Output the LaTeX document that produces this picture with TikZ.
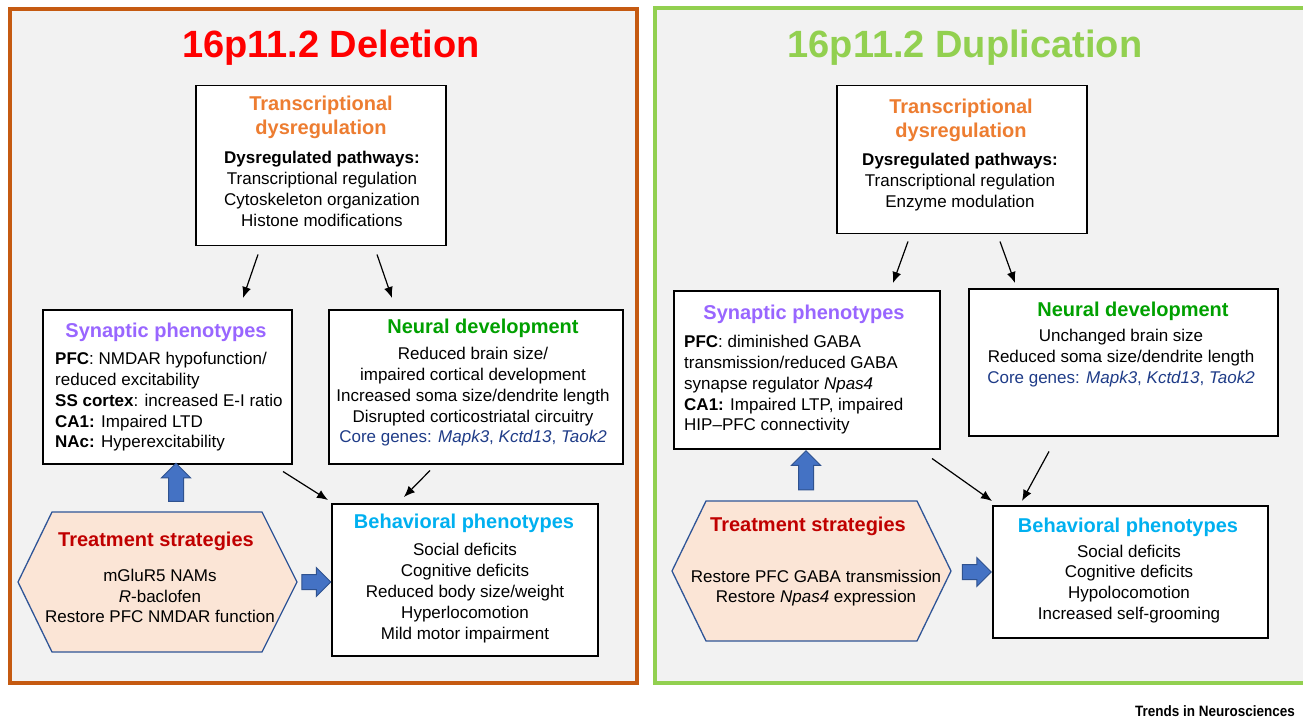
\documentclass[tikz,border=0pt]{standalone}
\usepackage{fontspec}
\setmainfont{Liberation Sans}
\usetikzlibrary{arrows.meta,shapes.arrows,calc}
\definecolor{panelgray}{HTML}{F2F2F2}
\definecolor{delred}{HTML}{FF0000}
\definecolor{dupgreen}{HTML}{92D050}
\definecolor{delframe}{HTML}{C55A11}
\definecolor{transorange}{HTML}{ED7D31}
\definecolor{synpurple}{HTML}{9966FF}
\definecolor{neugreen}{HTML}{00A000}
\definecolor{behcyan}{HTML}{00B0F0}
\definecolor{treatred}{HTML}{C00000}
\definecolor{genenavy}{HTML}{1F3C88}
\definecolor{arrowblue}{HTML}{4472C4}
\definecolor{arrowedge}{HTML}{2F528F}
\definecolor{hexfill}{HTML}{FBE5D6}
\definecolor{hexedge}{HTML}{2F5597}
\begin{document}
\begin{tikzpicture}[x=1pt,y=-1pt,
  every node/.style={inner sep=0pt},
  panel/.style={line width=3.5pt, fill=panelgray},
  box/.style={draw=black, line width=1.5pt, fill=white, anchor=north west},
  head/.style={font=\bfseries\fontsize{20}{24}\selectfont, align=center},
  body/.style={font=\fontsize{17}{20.8}\selectfont, align=center},
  bigtitle/.style={font=\bfseries\fontsize{38}{44}\selectfont},
  link/.style={-{Latex[length=11pt,width=9pt]}, line width=1.2pt},
  blockarrow/.style={single arrow, draw=arrowedge, fill=arrowblue, line width=1pt,
    inner sep=7pt, single arrow head extend=7pt, minimum height=#1},
  hexagon/.style={draw=hexedge, fill=hexfill, line width=1.3pt}]
\useasboundingbox (0,0) rectangle (1303,719);
\fill[white] (0,0) rectangle (1303,719);
\draw[panel, draw=delframe] (10,9) rectangle (637,683);
\draw[panel, draw=dupgreen] (655,8) rectangle (1340,683);
\node[bigtitle, text=delred] (delTitle) at (331,48) {16p11.2 Deletion};
\node[bigtitle, text=dupgreen] (dupTitle) at (965,48) {16p11.2 Duplication};
% deletion
\node[box, minimum width=250pt, minimum height=160pt] (trL) at (195,85) {};
\node[head, text=transorange] (trLhead) at (321,117) {Transcriptional\\dysregulation};
\node[body] (trLbody) at (322,189) {\textbf{Dysregulated pathways:}\\Transcriptional regulation\\Cytoskeleton organization\\Histone modifications};
\node[box, minimum width=249pt, minimum height=154pt] (synL) at (42,309) {};
\node[head, text=synpurple] (synLhead) at (166,332) {Synaptic phenotypes};
\node[body, align=left, anchor=west] (synLbody) at (55,402) {\textbf{PFC}: NMDAR hypofunction/\\reduced excitability\\\textbf{SS cortex}: increased E-I ratio\\\textbf{CA1:} Impaired LTD\\\textbf{NAc:} Hyperexcitability};
\node[box, minimum width=294pt, minimum height=154pt] (neuL) at (328,309) {};
\node[head, text=neugreen] (neuLhead) at (483,328) {Neural development};
\node[body] (neuLbody) at (473,397) {Reduced brain size/\\impaired cortical development\\Increased soma size/dendrite length\\Disrupted corticostriatal circuitry\\\textcolor{genenavy}{Core genes: \textit{Mapk3}, \textit{Kctd13}, \textit{Taok2}}};
\draw[hexagon] (18,582) -- (52,512) -- (262,512) -- (297,582) -- (262,652) -- (52,652) -- cycle;
\node[head, text=treatred] (trtLhead) at (156,541) {Treatment strategies};
\node[body] (trtLbody) at (160,596) {mGluR5 NAMs\\\textit{R}-baclofen\\Restore PFC NMDAR function};
\node[box, minimum width=266pt, minimum height=152pt] (behL) at (331,503) {};
\node[head, text=behcyan] (behLhead) at (464,523) {Behavioral phenotypes};
\node[body] (behLbody) at (465,593) {Social deficits\\Cognitive deficits\\Reduced body size/weight\\Hyperlocomotion\\Mild motor impairment};
\node[blockarrow=38pt, rotate=90] (upL) at (176,486) {};
\node[blockarrow=29pt] (rtL) at (312.5,582) {};
\draw[link] ($(trL.south west)+(63,8)$) -- ($(synL.north west)+(201,-11)$);
\draw[link] ($(trL.south west)+(182,8)$) -- ($(neuL.north west)+(64,-11)$);
\draw[link] ($(synL.south west)+(241,7)$) -- ($(behL.north west)+(-3,-3)$);
\draw[link] ($(neuL.south west)+(102,6)$) -- ($(behL.north west)+(73,-6)$);
% duplication
\node[box, minimum width=250pt, minimum height=148pt] (trR) at (836,85) {};
\node[head, text=transorange] (trRhead) at (961,120) {Transcriptional\\dysregulation};
\node[body] (trRbody) at (960,182) {\textbf{Dysregulated pathways:}\\Transcriptional regulation\\Enzyme modulation};
\node[box, minimum width=266pt, minimum height=158pt] (synR) at (673,290) {};
\node[head, text=synpurple] (synRhead) at (804,314) {Synaptic phenotypes};
\node[body, align=left, anchor=west] (synRbody) at (684,385) {\textbf{PFC}: diminished GABA\\transmission/reduced GABA\\synapse regulator \textit{Npas4}\\\textbf{CA1:} Impaired LTP, impaired\\HIP--PFC connectivity};
\node[box, minimum width=309pt, minimum height=147pt] (neuR) at (968,288) {};
\node[head, text=neugreen] (neuRhead) at (1133,311) {Neural development};
\node[body] (neuRbody) at (1121,358) {Unchanged brain size\\Reduced soma size/dendrite length\\\textcolor{genenavy}{Core genes: \textit{Mapk3}, \textit{Kctd13}, \textit{Taok2}}};
\draw[hexagon] (672,571) -- (706,501) -- (917,501) -- (951,571) -- (917,641) -- (706,641) -- cycle;
\node[head, text=treatred] (trtRhead) at (808,526) {Treatment strategies};
\node[body] (trtRbody) at (816,588) {Restore PFC GABA transmission\\Restore \textit{Npas4} expression};
\node[box, minimum width=275pt, minimum height=132pt] (behR) at (992,505) {};
\node[head, text=behcyan] (behRhead) at (1128,527) {Behavioral phenotypes};
\node[body] (behRbody) at (1129,584) {Social deficits\\Cognitive deficits\\Hypolocomotion\\Increased self-grooming};
\node[blockarrow=39pt, rotate=90] (upR) at (806,474) {};
\node[blockarrow=29pt] (rtR) at (973,572) {};
\draw[link] ($(trR.south west)+(72,7)$) -- ($(synR.north west)+(220,-7)$);
\draw[link] ($(trR.south west)+(164,7)$) -- ($(neuR.north west)+(47,-5)$);
\draw[link] ($(synR.south west)+(259,9)$) -- ($(behR.north west)+(0,-4)$);
\draw[link] ($(neuR.south west)+(81,15)$) -- ($(behR.north west)+(30,-4)$);
\node[anchor=west, xscale=0.9, font=\bfseries\fontsize{15}{18}\selectfont] (journal) at (1135,711) {Trends in Neurosciences};
\end{tikzpicture}
\end{document}
